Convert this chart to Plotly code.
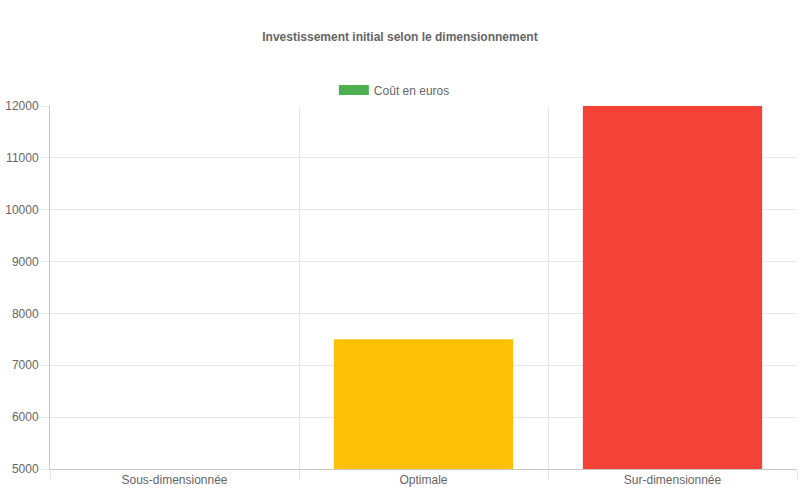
import plotly.graph_objects as go

categories = ["Sous-dimensionnée", "Optimale", "Sur-dimensionnée"]
costs = [5000, 7500, 12000]
bar_colors = ["#4CAF50", "#FFC107", "#F44336"]
y_ticks = [5000, 6000, 7000, 8000, 9000, 10000, 11000, 12000]
series_name = "Coût en euros"

positions = list(range(len(categories)))
boundaries = [p - 0.5 for p in positions] + [positions[-1] + 0.5]

fig = go.Figure()

# bars
fig.add_trace(go.Bar(x=positions, y=costs, marker=dict(color=bar_colors, line_width=0),
                     width=0.72, showlegend=False, hoverinfo="y"))

# legend entry drawn as a wide swatch
fig.add_trace(go.Scatter(x=[None], y=[None], mode="lines", name=series_name,
                         line=dict(color=bar_colors[0], width=12)))

# invisible trace on the second x axis so that category boundary grid shows
fig.add_trace(go.Scatter(x=boundaries, y=[None] * len(boundaries), xaxis="x2",
                         mode="markers", showlegend=False, hoverinfo="skip"))

fig.update_layout(
    width=800, height=500,
    margin=dict(l=50, r=3, t=106, b=31, autoexpand=False),
    paper_bgcolor="white", plot_bgcolor="white",
    font=dict(family="Liberation Sans, Arial, sans-serif", size=12, color="#666"),
    title=dict(text="<b>Investissement initial selon le dimensionnement</b>",
               x=0.5, xanchor="center", y=0.926, yanchor="middle",
               font=dict(size=12, color="#666")),
    legend=dict(orientation="h", x=0.461, xanchor="center", y=1.044, yanchor="middle",
                font=dict(size=12, color="#666"), itemwidth=30),
    xaxis=dict(range=[-0.5, len(categories) - 0.5], tickvals=positions, ticktext=categories,
               showgrid=False, ticks="", zeroline=False, showline=True,
               linecolor="#c8c8c8", linewidth=1, fixedrange=True, automargin=False,
               tickfont=dict(size=12, color="#666")),
    xaxis2=dict(range=[-0.5, len(categories) - 0.5], overlaying="x", side="bottom",
                tickvals=boundaries, showticklabels=False, showgrid=True,
                gridcolor="#e6e6e6", gridwidth=1, ticks="outside", ticklen=10,
                tickcolor="#e6e6e6", zeroline=False, showline=False, fixedrange=True),
    yaxis=dict(range=[y_ticks[0], y_ticks[-1]], tickvals=y_ticks,
               ticktext=[str(v) for v in y_ticks], showgrid=True,
               gridcolor="#e6e6e6", ticks="outside", ticklen=8, tickcolor="#e6e6e6",
               zeroline=False, showline=True, linecolor="#c8c8c8", linewidth=1,
               automargin=False, tickfont=dict(size=12, color="#666"), fixedrange=True),
    bargap=0.28,
)

fig.write_html("out.html", config={"displayModeBar": False},
               post_script="document.body.style.margin='0';")
